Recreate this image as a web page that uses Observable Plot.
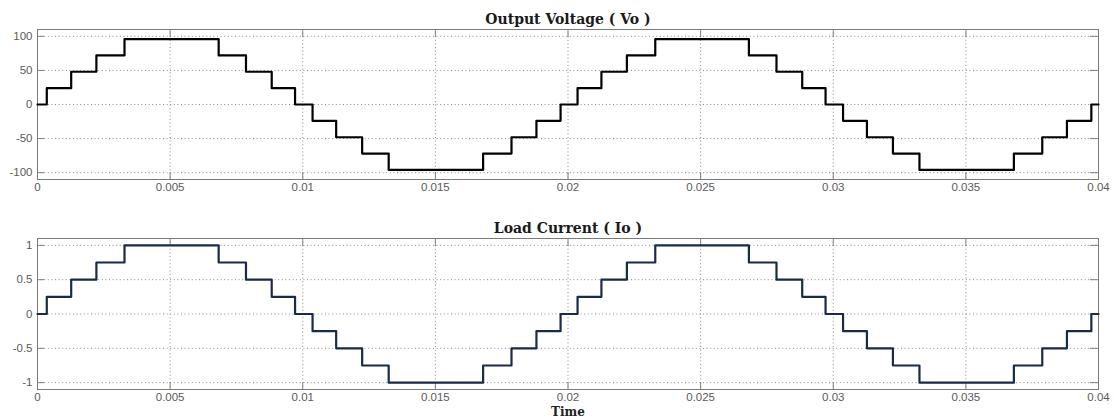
<!DOCTYPE html>
<html>
<head>
<meta charset="utf-8">
<script src="https://cdn.jsdelivr.net/npm/d3@7"></script>
<script src="https://cdn.jsdelivr.net/npm/@observablehq/plot@0.6"></script>
<style>
  html, body { margin: 0; padding: 0; background: #fff; }
  #chart { width: 1113px; height: 420px; background: #fff; }
  #chart svg { display: block; }
</style>
</head>
<body>
<div id="chart"></div>
<script>
// Switching instants (s), with the level that starts there
const time = [0, 0.00035, 0.00127, 0.00222, 0.00328, 0.00683, 0.00786, 0.00883, 0.00971,
  0.01037, 0.01126, 0.01224, 0.01324, 0.01680, 0.01787, 0.01881, 0.01972,
  0.02036, 0.02126, 0.02222, 0.02329, 0.02682, 0.02786, 0.02883, 0.02971,
  0.03037, 0.03127, 0.03225, 0.03325, 0.03681, 0.03788, 0.03881, 0.03973, 0.04];
const vo = [0, 24, 48, 72, 96, 72, 48, 24, 0,
  -24, -48, -72, -96, -72, -48, -24, 0,
  24, 48, 72, 96, 72, 48, 24, 0,
  -24, -48, -72, -96, -72, -48, -24, 0, 0];
const io = [0, 0.25, 0.5, 0.75, 1, 0.75, 0.5, 0.25, 0,
  -0.25, -0.5, -0.75, -1, -0.75, -0.5, -0.25, 0,
  0.25, 0.5, 0.75, 1, 0.75, 0.5, 0.25, 0,
  -0.25, -0.5, -0.75, -1, -0.75, -0.5, -0.25, 0, 0];

const xTicks = [0, 0.005, 0.01, 0.015, 0.02, 0.025, 0.03, 0.035, 0.04];
const xTickLabels = ["0", "0.005", "0.01", "0.015", "0.02", "0.025", "0.03", "0.035", "0.04"];
const vTicks = [-100, -50, 0, 50, 100];
const iTicks = [-1, -0.5, 0, 0.5, 1];
const iTickLabels = ["-1", "-0.5", "0", "0.5", "1"];

const titles = ["Output Voltage ( Vo )", "Load Current ( Io )"];
const xLabel = "Time";

const vData = time.map((t, i) => ({t, v: vo[i]}));
const iData = time.map((t, i) => ({t, v: io[i]}));

const gridStyle = {stroke: "#8a8a8a", strokeOpacity: 1, strokeDasharray: "1,2.6", strokeWidth: 1};
const tickColor = "#808080";
const labelFont = "Liberation Sans, Arial, sans-serif";

function panel({data, yDomain, yTicks, yFmt, color, title, height, marginTop, marginBottom, withXLabel, titleDy}) {
  const marks = [
    Plot.gridX(xTicks, gridStyle),
    Plot.gridY(yTicks, gridStyle),
    // inward tick marks on all four sides
    Plot.axisX(xTicks, {anchor: "bottom", tickSize: 7, dy: -7, fill: "none", stroke: tickColor, label: null}),
    Plot.axisX(xTicks, {anchor: "top", tickSize: 7, dy: 7, fill: "none", stroke: tickColor, label: null}),
    Plot.axisY(yTicks, {anchor: "left", tickSize: 7, dx: 7, fill: "none", stroke: tickColor, label: null}),
    Plot.axisY(yTicks, {anchor: "right", tickSize: 9, dx: -9, fill: "none", stroke: tickColor, label: null}),
    // tick labels
    Plot.axisX(xTicks, {anchor: "bottom", tickSize: 0, tickPadding: 3, tickFormat: (d, i) => xTickLabels[i], fill: "#5a5a5a", label: null, fontSize: 11.5}),
    Plot.axisY(yTicks, {anchor: "left", tickSize: 0, tickPadding: 5, tickFormat: yFmt, fill: "#5a5a5a", label: null, fontSize: 11.5}),
    Plot.frame({stroke: "#7a7a7a", strokeWidth: 1}),
    Plot.line(data, {x: "t", y: "v", curve: "step-after", stroke: color, strokeWidth: 2.2}),
    Plot.text([title], {frameAnchor: "top", dy: titleDy, text: d => d, fontFamily: "DejaVu Serif, serif", fontWeight: "bold", fontSize: 14, fill: "#1a1a1a"})
  ];
  if (withXLabel) {
    marks.push(Plot.text([xLabel], {frameAnchor: "bottom", lineAnchor: "top", dy: 18, text: d => d, fontFamily: "DejaVu Serif, serif", fontWeight: "bold", fontSize: 12, fill: "#222", letterSpacing: "0.5px"}));
  }
  return Plot.plot({
    width: 1113,
    height,
    marginLeft: 37,
    marginRight: 15,
    marginTop,
    marginBottom,
    style: {background: "#fff", fontFamily: labelFont, fontSize: "12px", overflow: "visible"},
    x: {domain: [0, 0.04], axis: null},
    y: {domain: yDomain, axis: null},
    marks
  });
}

const chart = document.getElementById("chart");
chart.append(panel({
  data: vData, yDomain: [-110, 110], yTicks: vTicks, yFmt: d => String(d),
  color: "#000", title: titles[0], height: 200, marginTop: 29, marginBottom: 21,
  withXLabel: false, titleDy: -15
}));
chart.append(panel({
  data: iData, yDomain: [-1.1, 1.1], yTicks: iTicks, yFmt: (d, i) => iTickLabels[i],
  color: "#1b2a4a", title: titles[1], height: 220, marginTop: 38, marginBottom: 31,
  withXLabel: true, titleDy: -15
}));
</script>
</body>
</html>
